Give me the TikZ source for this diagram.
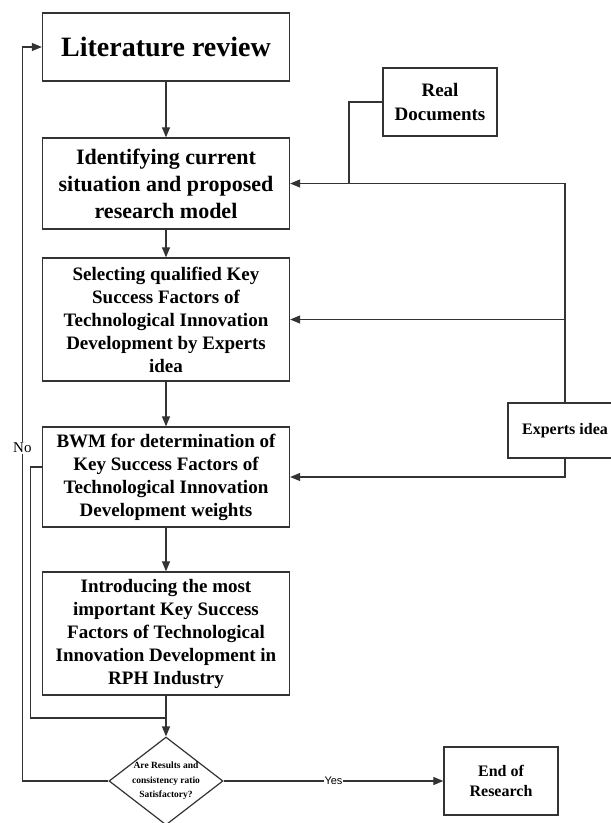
\documentclass[tikz,border=0pt]{standalone}
\usepackage{fontspec}
\setmainfont{Liberation Serif}
\newfontfamily\yesfont{Liberation Sans}
\usetikzlibrary{arrows.meta,shapes.geometric}

\tikzset{
  stepbox/.style={draw=black!80, line width=1.3pt, fill=white, align=center,
    inner sep=0pt, minimum width=247pt, font=\fontsize{19}{23}\selectfont\bfseries},
  sidebox/.style={stepbox, minimum width=114pt, font=\fontsize{16}{20}\selectfont\bfseries},
  decision/.style={diamond, draw=black!80, line width=1.2pt, fill=white,
    minimum width=114pt, minimum height=88pt, inner sep=0pt},
  link/.style={draw=black!80, line width=1.2pt},
  arr/.style={link, -{Triangle[length=10pt,width=8pt]}},
}

\begin{document}
\begin{tikzpicture}[x=1pt,y=-1pt]
\useasboundingbox (0,0) rectangle (611,823);

% Main steps
\node[stepbox, minimum height=68pt, font=\fontsize{28}{32}\selectfont\bfseries] (lit) at (166,47) {Literature review};
\node[stepbox, minimum height=91pt, font=\fontsize{22}{27}\selectfont\bfseries] (ident) at (166,183.5)
  {Identifying current\\situation and proposed\\research model};
\node[stepbox, minimum height=123pt] (select) at (166,319.5)
  {Selecting qualified Key\\Success Factors of\\Technological Innovation\\Development by Experts\\idea};
\node[stepbox, minimum height=100pt] (bwm) at (166,477)
  {BWM for determination of\\Key Success Factors of\\Technological Innovation\\Development weights};
\node[stepbox, minimum height=123pt] (intro) at (166,633.5)
  {Introducing the most\\important Key Success\\Factors of Technological\\Innovation Development in\\RPH Industry};

% Decision
\node[decision] (dec) at (166,781) {};
\node[align=center, inner sep=0pt, font=\fontsize{9.5}{14.5}\selectfont\bfseries] (dectext) at (dec) {Are Results and\\consistency ratio\\Satisfactory?};

% Side inputs
\node[sidebox, minimum height=68pt, font=\fontsize{19}{24}\selectfont\bfseries] (real) at (440,102) {Real\\Documents};
\node[sidebox, minimum height=55pt] (experts) at (565,430.5) {Experts idea};
\node[sidebox, minimum height=68pt] (end) at (501,781) {End of\\Research};

% Main flow
\draw[arr] (lit) -- (ident);
\draw[arr] (ident) -- (select);
\draw[arr] (select) -- (bwm);
\draw[arr] (bwm) -- (intro);
\draw[arr] (intro) -- (dec);

% Inputs from the right
\coordinate (rdjoin) at (349,183.5);
\draw[link] (real.west) -| (rdjoin);
\draw[arr] (experts.north) |- (ident.east);
\draw[arr] (experts.north) |- (select.east);
\draw[arr] (experts.south) |- (bwm.east);

% Inner loop
\coordinate (merge) at (166,718);
\draw[link] ([yshift=10pt]bwm.west) -- ++(-11,0) |- (merge);

% Outcomes
\draw[arr] (dec.east) -- node[fill=white, inner sep=1pt, font=\yesfont\fontsize{11}{13}\selectfont] {Yes} (end.west);
\draw[arr] (dec.west) -- ++(-86,0) |- node[pos=0.227, fill=white, inner sep=1pt, font=\fontsize{15}{17}\selectfont] {No} (lit.west);

\end{tikzpicture}
\end{document}
